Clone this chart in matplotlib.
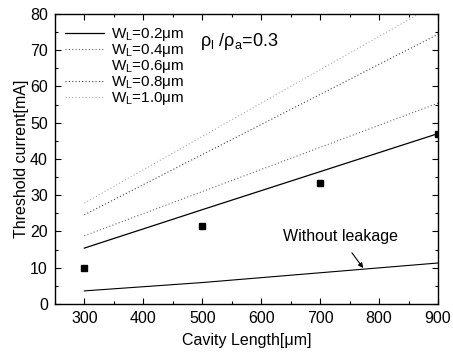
"""
Threshold current vs cavity length for several leakage widths.
"""

import matplotlib
matplotlib.use("Agg")
import matplotlib.pyplot as plt
from matplotlib.lines import Line2D
from matplotlib.ticker import MultipleLocator

plt.rcParams["font.family"] = ["Liberation Sans", "DejaVu Sans"]
plt.rcParams["mathtext.fontset"] = "custom"
plt.rcParams["mathtext.rm"] = "Liberation Sans"
plt.rcParams["mathtext.it"] = "Liberation Sans"
plt.rcParams["mathtext.default"] = "rm"

# data
cavity_len = [300, 500, 700, 900]
ith_w02 = [15.4, 26.0, 36.5, 47.0]
ith_w04 = [18.8, 31.0, 43.2, 55.4]
ith_w08 = [24.6, 41.2, 57.8, 74.4]
ith_w10 = [27.8, 46.2, 64.6, 83.0]
ith_no_leak = [3.6, 5.9, 8.6, 11.3]
measured = [10.0, 21.5, 33.4, 47.0]

dot = (0, (1, 2))

fig = plt.figure(figsize=(4.53, 3.58), dpi=100)
ax = fig.add_axes([0.121, 0.151, 0.846, 0.810])

ax.plot(cavity_len, ith_w02, color="black", lw=0.9, label="W$_L$=0.2μm")
ax.plot(cavity_len, ith_w04, color="#666666", lw=0.8, ls=dot, label="W$_L$=0.4μm")
# the 0.6 um curve is not visible in the scan, keep only its legend entry
h06 = Line2D([], [], color="none", label="W$_L$=0.6μm")
ax.plot(cavity_len, ith_w08, color="#444444", lw=0.8, ls=dot, label="W$_L$=0.8μm")
ax.plot(cavity_len, ith_w10, color="#aaaaaa", lw=0.8, ls=dot, label="W$_L$=1.0μm")
ax.plot(cavity_len, ith_no_leak, color="black", lw=0.8)
ax.plot(cavity_len, measured, "s", color="black", ms=4.5, ls="none")

handles, labels = ax.get_legend_handles_labels()
handles.insert(2, h06)
labels.insert(2, h06.get_label())
ax.legend(handles, labels, loc="upper left", frameon=False, fontsize=11,
          handlelength=2.6, handletextpad=0.45, labelspacing=-0.06,
          borderaxespad=0.0, bbox_to_anchor=(0.01, 0.98))

ax.text(497, 72.3, r"$\rho_l\ /\rho_a$=0.3", fontsize=13, va="center")
ax.annotate("Without leakage", xy=(773, 9.9), xytext=(734, 18.5),
            ha="center", va="center", fontsize=11.5,
            arrowprops=dict(arrowstyle="-|>", color="black", lw=0.8,
                            mutation_scale=7, shrinkA=5, shrinkB=0))

ax.set_xlim(250, 900)
ax.set_ylim(0, 80)
ax.xaxis.set_major_locator(MultipleLocator(100))
ax.xaxis.set_minor_locator(MultipleLocator(50))
ax.yaxis.set_major_locator(MultipleLocator(10))
ax.yaxis.set_minor_locator(MultipleLocator(5))
ax.tick_params(which="both", direction="in", top=True, right=True,
               labelsize=11.5, width=0.8)
ax.tick_params(which="major", length=4, pad=5)
ax.tick_params(which="minor", length=2)
for s in ax.spines.values():
    s.set_linewidth(1.0)

ax.set_xlabel("Cavity Length[μm]", fontsize=11.5, labelpad=5)
ax.set_ylabel("Threshold current[mA]", fontsize=11.5, labelpad=0.5)

plt.savefig("out.png", dpi=100)
